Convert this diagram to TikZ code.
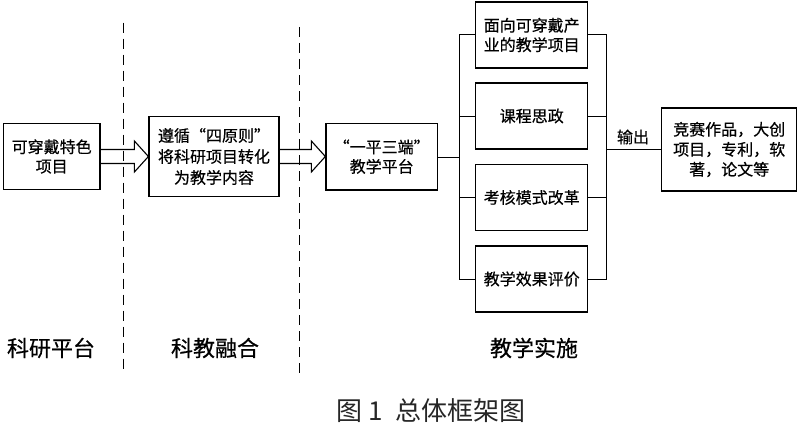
\documentclass[tikz,border=0pt]{standalone}
\usepackage{fontspec}
\newfontfamily\cjk[FakeBold=0.5]{Noto Sans CJK SC}
\newfontfamily\cjkthin{Noto Sans CJK SC}
\usetikzlibrary{calc}
\tikzset{
  box/.style={draw, line width=1.2pt, inner sep=0pt, align=center,
    font=\cjk\fontsize{16}{19.5}\selectfont},
  conn/.style={line width=1pt},
  hollow/.style={line width=1.1pt, line join=miter},
  divider/.style={line width=1.2pt, dash pattern=on 10pt off 6pt},
  zone/.style={font=\cjk\fontsize{22}{25}\selectfont},
  figcaption/.style={font=\cjkthin\fontsize{26}{30}\selectfont, text=black!85}
}
\newcommand\hollowarrow[2]{%
  \draw[hollow] let \p1=(#1.east), \p2=(#2.west) in
    (\x1,{\y1+7pt}) -- ({\x2-14pt},{\y1+7pt}) -- ({\x2-14pt},{\y1+15.5pt})
    -- (\x2,\y1) -- ({\x2-14pt},{\y1-15.5pt}) -- ({\x2-14pt},{\y1-7pt}) -- (\x1,{\y1-7pt});}
\begin{document}
\begin{tikzpicture}[x=1pt,y=-1pt]
\useasboundingbox (0,0) rectangle (800,428);
% dividers
\coordinate (d1t) at (123.3,22.7); \coordinate (d1b) at (123.3,373);
\coordinate (d2t) at (299.3,27);   \coordinate (d2b) at (299.3,377);
\draw[divider] (d1t) -- (d1b);
\draw[divider] (d2t) -- (d2b);
% boxes
\node[box, minimum width=96.7pt, minimum height=66.6pt] (A) at (51.7,156.5) {可穿戴特色\\项目};
\node[box, minimum width=130pt, minimum height=80pt, font=\cjk\fontsize{16}{21}\selectfont] (B) at (214,156.5) {遵循“四原则”\\将科研项目转化\\为教学内容};
\node[box, minimum width=111.5pt, minimum height=66.7pt] (C) at (381.7,156.7) {“一平三端”\\教学平台};
\node[box, minimum width=112pt, minimum height=66pt] (T1) at (531.7,35) {面向可穿戴产\\业的教学项目};
\node[box, minimum width=112pt, minimum height=66pt] (T2) at (531.7,116) {课程思政};
\node[box, minimum width=112pt, minimum height=66pt] (T3) at (531.7,197.5) {考核模式改革};
\node[box, minimum width=112pt, minimum height=66pt] (T4) at (531.7,279) {教学效果评价};
\node[box, minimum width=135pt, minimum height=83pt, font=\cjk\fontsize{16}{20}\selectfont] (O) at (729.2,149.5) {竞赛作品，大创\\项目，专利，软\\著，论文等};
% hollow arrows
\hollowarrow{A}{B}
\hollowarrow{B}{C}
% left bus
\coordinate (Lb) at (459.3,157);
\coordinate (Lt) at (459.3,35);
\coordinate (Lbot) at (459.3,279);
\draw[conn] (C.east |- Lb) -- (Lb);
\draw[conn] (Lt) -- (Lbot);
\foreach \t in {T1,T2,T3,T4} \draw[conn] (Lt |- \t.west) -- (\t.west);
% right bus
\coordinate (Rt) at (606.7,35);
\coordinate (Rbot) at (606.7,279);
\draw[conn] (Rt) -- (Rbot);
\foreach \t in {T1,T2,T3,T4} \draw[conn] (\t.east) -- (Rt |- \t.east);
\draw[conn] (Rt |- O.west) -- (O.west);
\node[font=\cjk\fontsize{16}{18}\selectfont, inner sep=0pt] (out) at (633,137) {输出};
% zone labels
\node[zone] (z1) at (51,348) {科研平台};
\node[zone] (z2) at (215,348) {科教融合};
\node[zone] (z3) at (534,348) {教学实施};
% caption
\node[figcaption] (capt) at (431,411) {图 1\; 总体框架图};
\end{tikzpicture}
\end{document}
